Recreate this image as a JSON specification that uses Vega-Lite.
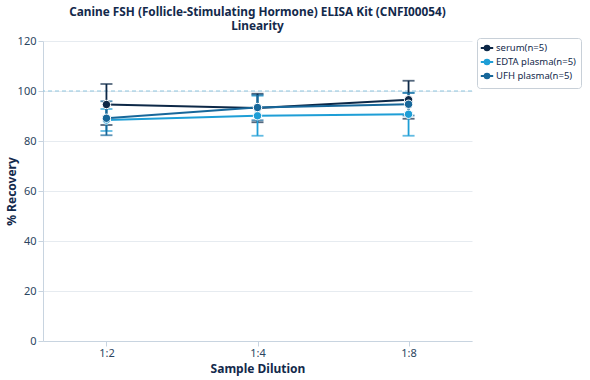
{
  "$schema": "https://vega.github.io/schema/vega-lite/v6.json",
  "autosize": "none",
  "width": 429,
  "height": 300,
  "padding": {"left": 43, "top": 41, "right": 118, "bottom": 39},
  "background": "white",
  "config": {
    "font": "Noto Sans",
    "view": {"stroke": null},
    "axis": {"labelColor": "#2b4560", "titleColor": "#13294b", "labelFontSize": 11, "titleFontSize": 12, "titleFontWeight": "bold", "domainColor": "#c8d4e0", "tickColor": "#c8d4e0", "gridColor": "#e6ebf0"}
  },
  "title": {"text": ["Canine FSH (Follicle-Stimulating Hormone) ELISA Kit (CNFI00054)", "Linearity"], "fontSize": 11.8, "fontWeight": "bold", "color": "#13294b", "anchor": "middle", "offset": 2, "lineHeight": 14.5},
  "data": {"values": [
    {"dilution": "1:2", "sample": "serum(n=5)", "mean": 94.6, "lo": 86.4, "hi": 102.8},
    {"dilution": "1:4", "sample": "serum(n=5)", "mean": 93.2, "lo": 87.5, "hi": 98.9},
    {"dilution": "1:8", "sample": "serum(n=5)", "mean": 96.5, "lo": 88.9, "hi": 104.1},
    {"dilution": "1:2", "sample": "EDTA plasma(n=5)", "mean": 88.4, "lo": 84.0, "hi": 92.8},
    {"dilution": "1:4", "sample": "EDTA plasma(n=5)", "mean": 90.1, "lo": 82.1, "hi": 98.1},
    {"dilution": "1:8", "sample": "EDTA plasma(n=5)", "mean": 90.7, "lo": 82.1, "hi": 99.3},
    {"dilution": "1:2", "sample": "UFH plasma(n=5)", "mean": 89.1, "lo": 82.3, "hi": 95.9},
    {"dilution": "1:4", "sample": "UFH plasma(n=5)", "mean": 93.4, "lo": 88.3, "hi": 98.5},
    {"dilution": "1:8", "sample": "UFH plasma(n=5)", "mean": 94.7, "lo": 90.2, "hi": 99.2}
  ]},
  "encoding": {
    "x": {"field": "dilution", "type": "ordinal", "sort": ["1:2", "1:4", "1:8"], "scale": {"type": "point", "padding": 0.42}, "axis": {"title": "Sample Dilution", "labelAngle": 0, "grid": false, "labelPadding": 1, "titlePadding": 5}},
    "color": {"field": "sample", "type": "nominal", "sort": ["serum(n=5)", "EDTA plasma(n=5)", "UFH plasma(n=5)"], "scale": {"domain": ["serum(n=5)", "EDTA plasma(n=5)", "UFH plasma(n=5)"], "range": ["#0d2847", "#1e9ed6", "#17679a"]},
      "legend": {"title": null, "orient": "none", "legendX": 434, "legendY": -3, "strokeColor": "#c8d0d8", "cornerRadius": 3, "padding": 5, "labelFontSize": 9.5, "labelColor": "#13294b", "rowPadding": 0, "symbolType": "M-1.6,0H-0.7M0.7,0H1.6M0,-0.6A0.6,0.6 0 1,1 0,0.6A0.6,0.6 0 1,1 0,-0.6", "symbolSize": 60, "symbolStrokeWidth": 2, "symbolOpacity": 1}}
  },
  "layer": [
    {"mark": {"type": "rule", "strokeDash": [4, 3], "color": "#8fc6de", "strokeWidth": 1}, "data": {"values": [{"ref": 100}]}, "encoding": {"y": {"field": "ref", "type": "quantitative", "scale": {"domain": [0, 120]}, "axis": {"title": "% Recovery", "values": [0, 20, 40, 60, 80, 100, 120], "titleX": -25}}, "x": null, "color": null}},
    {"mark": {"type": "errorbar", "ticks": {"size": 12}, "thickness": 1.8}, "encoding": {"y": {"field": "lo", "type": "quantitative", "scale": {"domain": [0, 120]}, "axis": {"title": "% Recovery", "values": [0, 20, 40, 60, 80, 100, 120], "titleX": -25}}, "y2": {"field": "hi"}}},
    {"mark": {"type": "line", "strokeWidth": 2}, "encoding": {"y": {"field": "mean", "type": "quantitative", "axis": {"title": "% Recovery", "values": [0, 20, 40, 60, 80, 100, 120], "titleX": -25}}}},
    {"mark": {"type": "point", "filled": true, "size": 70, "opacity": 1, "strokeWidth": 1}, "encoding": {"y": {"field": "mean", "type": "quantitative", "axis": {"title": "% Recovery", "values": [0, 20, 40, 60, 80, 100, 120], "titleX": -25}}, "stroke": {"value": "white"}}}
  ]
}
